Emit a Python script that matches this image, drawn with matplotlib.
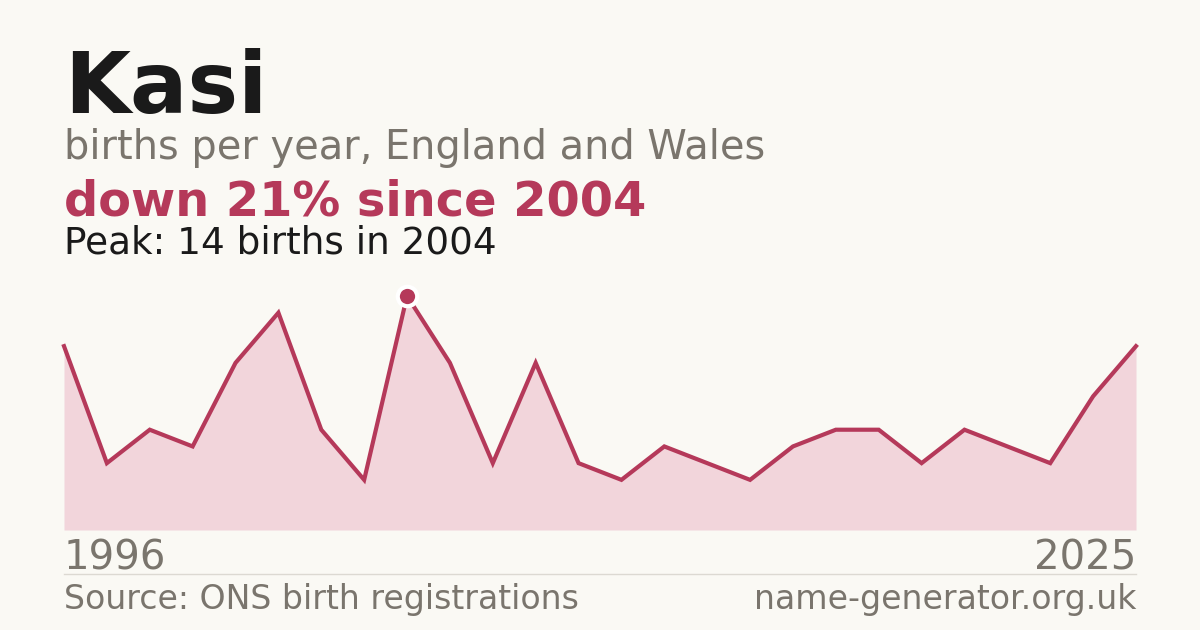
import matplotlib
matplotlib.use("Agg")
import matplotlib.pyplot as plt
from matplotlib.lines import Line2D

plt.rcParams["font.family"] = ["DejaVu Sans"]

# births per year (26 recorded years, evenly spaced)
counts = [11, 4, 6, 5, 10, 13, 6, 3, 14, 10, 4, 10, 4, 3, 5, 4, 3, 5, 6, 6, 4, 6, 5, 4, 8, 11]
first_year = "1996"
last_year = "2025"
peak_idx = 8

BG = "#faf9f4"
RED = "#b5395a"
FILL = "#f2d5db"
GREY = "#7a756d"
DARK = "#1a1a1a"

W, H = 1200, 630
fig = plt.figure(figsize=(12, 6.3), dpi=100, facecolor=BG)


def px(x, y):
    return x / W, 1 - y / H


ax = fig.add_axes([64 / W, (H - 530) / H, (1136 - 64) / W, (530 - 296) / H])
ax.set_facecolor(BG)
xs = list(range(len(counts)))
ax.fill_between(xs, counts, 0, color=FILL, lw=0)
ax.plot(xs, counts, color=RED, lw=3, solid_joinstyle="miter", clip_on=False)
ax.plot([xs[peak_idx]], [counts[peak_idx]], "o", ms=14, color=RED,
        mec="white", mew=3, clip_on=False, zorder=5)
ax.set_xlim(0, len(counts) - 1)
ax.set_ylim(0, max(counts))
ax.axis("off")

fig.text(*px(64, 113), "Kasi", fontsize=61.3, fontweight="bold", color=DARK, va="baseline")
fig.text(*px(64, 159), "births per year, England and Wales", fontsize=28.7, color=GREY, va="baseline")
fig.text(*px(64, 215), "down 21% since 2004", fontsize=34.5, fontweight="bold", color=RED, va="baseline")
fig.text(*px(64, 254), "Peak: 14 births in 2004", fontsize=26.9, color=DARK, va="baseline")

fig.text(*px(64, 569), first_year, fontsize=29, color=GREY, va="baseline")
fig.text(*px(1136, 569), last_year, fontsize=29, color=GREY, va="baseline", ha="right")
fig.add_artist(Line2D([64 / W, 1136 / W], [1 - 574 / H] * 2, color="#dcd9d2", lw=1))
fig.text(*px(64, 609), "Source: ONS birth registrations", fontsize=23.9, color=GREY, va="baseline")
fig.text(*px(1136, 609), "name-generator.org.uk", fontsize=23.9, color=GREY, va="baseline", ha="right")

fig.savefig("out.png", dpi=100, facecolor=BG)
